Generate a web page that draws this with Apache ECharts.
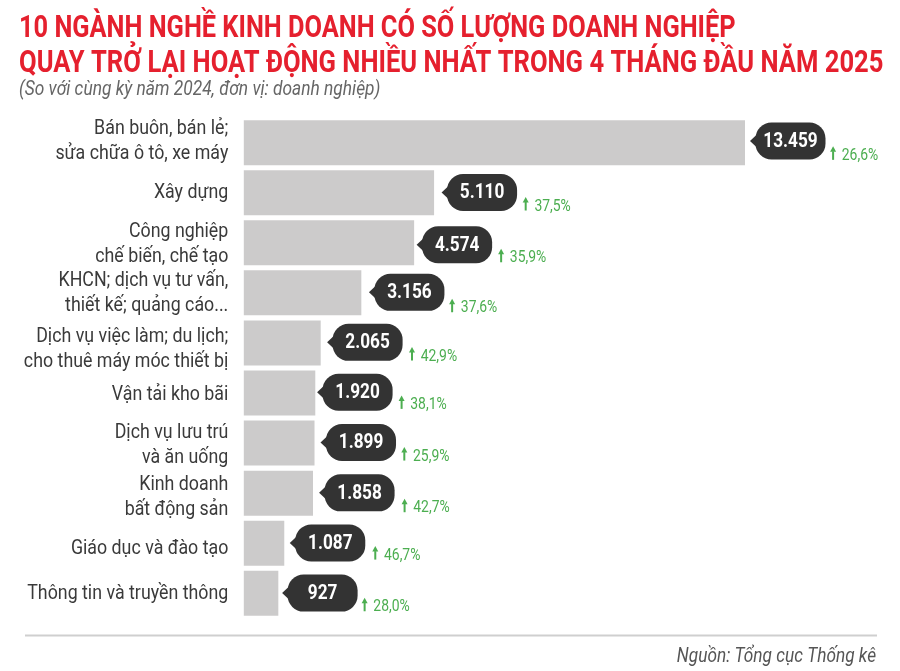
<!DOCTYPE html>
<html>

<head>
    <meta charset='UTF-8'>
    <script src="https://cdn.jsdelivr.net/npm/echarts@6/dist/echarts.min.js"></script>
    <style>
        html, body { margin: 0; padding: 0; background: #fff; }
        #chart { width: 900px; height: 671px; }
    </style>
    <title>Doanh nghiệp quay trở lại hoạt động</title>
</head>

<body>
    <div id="chart"></div>

    <script>
        var categories = [
            'Bán buôn, bán lẻ;\nsửa chữa ô tô, xe máy',
            'Xây dựng',
            'Công nghiệp\nchế biến, chế tạo',
            'KHCN; dịch vụ tư vấn,\nthiết kế; quảng cáo...',
            'Dịch vụ việc làm; du lịch;\ncho thuê máy móc thiết bị',
            'Vận tải kho bãi',
            'Dịch vụ lưu trú\nvà ăn uống',
            'Kinh doanh\nbất động sản',
            'Giáo dục và đào tạo',
            'Thông tin và truyền thông'
        ];
        var values = [13459, 5110, 4574, 3156, 2065, 1920, 1899, 1858, 1087, 927];
        var growth = ['26,6%', '37,5%', '35,9%', '37,6%', '42,9%', '38,1%', '25,9%', '42,7%', '46,7%', '28,0%'];

        //hand placed nudges per row, the original is not perfectly regular
        var tipGap = [5, 7.5, 2.5, 7.6, 6.4, 1.8, 6, 6.1, 5.5, 3.8];
        var bubbleDy = [-1.6, -0.2, 2, -0.5, -0.6, -0.7, -0.5, -0.3, -0.3, -0.2];
        var noteDy = [13.3, 12.5, 12, 14.4, 12.7, 11.1, 12.5, 13.9, 11.2, 12.7];
        var noteGap = [7.6, 8.6, 9, 7.7, 9.4, 9, 8.3, 10, 10, 7];
        var labelDy = [-1, 0.5, 1.5, 1, 6.5, 2.5, 2, 4, 5.5, 0.5];

        var RED = '#e5202e';
        var DARK = '#333333';
        var GREEN = '#4cae50';

        function formatValue(v) {
            return String(v).replace(/\B(?=(\d{3})+$)/g, '.');
        }

        //bubble with the value + green growth note, placed from the bar end
        function renderBubble(params, api) {
            var idx = params.dataIndex;
            var end = api.coord([api.value(0), idx]);
            var tip = end[0] + tipGap[idx];
            var left = tip + 5.5;
            var w = 70, h = 37;
            var cy = end[1] + bubbleDy[idx];
            var right = left + w;
            var ax = right + noteGap[idx];
            var ay = cy + noteDy[idx];
            return {
                type: 'group',
                children: [
                    {
                        type: 'polygon',
                        shape: { points: [[tip, cy], [left + 3, cy - 8], [left + 3, cy + 8]] },
                        style: { fill: DARK }
                    },
                    {
                        type: 'rect',
                        shape: { x: left, y: cy - h / 2, width: w, height: h, r: 16 },
                        style: { fill: DARK }
                    },
                    {
                        type: 'text',
                        x: left + w / 2,
                        y: cy + 0.8,
                        scaleX: 0.86,
                        style: {
                            text: formatValue(api.value(0)),
                            fill: '#fff',
                            font: 'bold 20px Roboto',
                            align: 'center',
                            verticalAlign: 'middle'
                        }
                    },
                    {
                        type: 'polygon',
                        shape: { points: [[ax - 3, ay - 2.5], [ax, ay - 8], [ax + 3, ay - 2.5]] },
                        style: { fill: GREEN }
                    },
                    {
                        type: 'rect',
                        shape: { x: ax - 1, y: ay - 3, width: 2, height: 8.5 },
                        style: { fill: GREEN }
                    },
                    {
                        type: 'text',
                        x: ax + 8.7,
                        y: ay + 1.5,
                        scaleX: 0.87,
                        style: {
                            text: growth[idx],
                            fill: GREEN,
                            font: '16px Roboto',
                            align: 'left',
                            verticalAlign: 'middle'
                        }
                    }
                ]
            };
        }

        //category names, squeezed a bit to get the condensed look of the original
        function renderLabel(params, api) {
            var idx = params.dataIndex;
            var start = api.coord([0, idx]);
            return {
                type: 'text',
                x: start[0] - 15.5,
                y: start[1] + labelDy[idx],
                scaleX: 0.89,
                style: {
                    text: categories[idx],
                    fill: '#3a3a3a',
                    font: '20px Roboto',
                    lineHeight: 25,
                    align: 'right',
                    verticalAlign: 'middle'
                }
            };
        }

        var myChart = echarts.init(document.getElementById('chart'), null, { renderer: 'canvas' });

        var option = {
            backgroundColor: '#fff',
            animation: false,
            grid: { left: 243.8, top: 117.6, width: 501.2, height: 500.7, containLabel: false },
            xAxis: { type: 'value', min: 0, max: 13459, show: false },
            yAxis: {
                type: 'category',
                inverse: true,
                data: categories,
                axisLine: { show: false },
                axisTick: { show: false },
                axisLabel: { show: false }
            },
            series: [{
                type: 'bar',
                data: values,
                barWidth: 45,
                itemStyle: { color: '#cccbcb' }
            }, {
                type: 'custom',
                data: values,
                encode: { x: 0 },
                renderItem: renderBubble,
                clip: false,
                z: 3
            }, {
                type: 'custom',
                data: values,
                encode: { x: 0 },
                renderItem: renderLabel,
                clip: false,
                z: 3
            }],
            graphic: [
                { type: 'text', x: 19, y: 14, scaleX: 0.818, style: { text: '10 NGÀNH NGHỀ KINH DOANH CÓ SỐ LƯỢNG DOANH NGHIỆP', fill: RED, font: 'bold 31px Roboto' } },
                { type: 'text', x: 19, y: 48.5, scaleX: 0.825, style: { text: 'QUAY TRỞ LẠI HOẠT ĐỘNG NHIỀU NHẤT TRONG 4 THÁNG ĐẦU NĂM 2025', fill: RED, font: 'bold 31px Roboto' } },
                { type: 'text', x: 19, y: 80, scaleX: 0.889, style: { text: '(So với cùng kỳ năm 2024, đơn vị: doanh nghiệp)', fill: '#666', font: 'italic 19.5px Roboto' } },
                { type: 'rect', shape: { x: 25, y: 634.5, width: 852, height: 2 }, style: { fill: '#cfcfcf' } },
                { type: 'text', x: 876, y: 647, scaleX: 0.885, style: { text: 'Nguồn: Tổng cục Thống kê', fill: '#555', font: 'italic 19.5px Roboto', align: 'right' } }
            ]
        };

        myChart.setOption(option);
    </script>
</body>

</html>
